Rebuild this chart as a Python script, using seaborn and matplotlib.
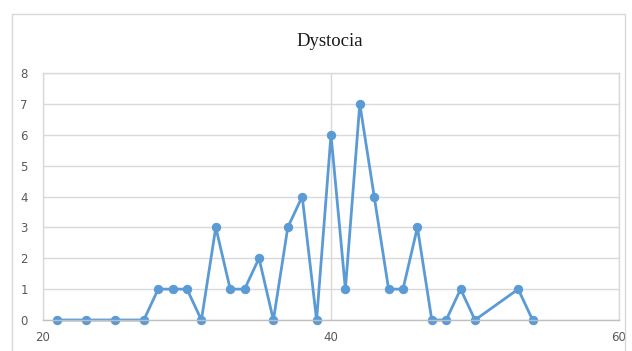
import matplotlib
matplotlib.use("Agg")
import matplotlib.pyplot as plt
import seaborn as sns
import pandas as pd
from matplotlib.patches import Rectangle

# data
weeks = [21, 23, 25, 27, 28, 29, 30, 31, 32, 33, 34, 35, 36, 37, 38, 39,
         40, 41, 42, 43, 44, 45, 46, 47, 48, 49, 50, 53, 54]
cases = [0, 0, 0, 0, 1, 1, 1, 0, 3, 1, 1, 2, 0, 3, 4, 0,
         6, 1, 7, 4, 1, 1, 3, 0, 0, 1, 0, 1, 0]
x_ticks = [20, 40, 60]
y_ticks = list(range(0, 9))

df = pd.DataFrame({"week": weeks, "cases": cases})

sns.set_style("white")
fig = plt.figure(figsize=(6.32, 3.51), dpi=100)

# outer chart frame
fig.patches.append(Rectangle((12 / 632, -0.01), 613 / 632, 1 - 14 / 351 + 0.01,
                             transform=fig.transFigure, fill=False,
                             edgecolor="#d9d9d9", linewidth=1.0))

ax = fig.add_axes([43 / 632, 1 - 320 / 351, (619 - 43) / 632, (320 - 73) / 351])
blue = "#5B9BD5"
sns.lineplot(data=df, x="week", y="cases", ax=ax, color=blue, linewidth=2,
             marker="o", markersize=6, markeredgecolor=blue)
for ln in ax.lines:
    ln.set_clip_on(False)

ax.set_xlim(20, 60)
ax.set_ylim(0, 8)
ax.set_xticks(x_ticks)
ax.set_yticks(y_ticks)
ax.grid(True, color="#d9d9d9", linewidth=1)
ax.set_axisbelow(True)
for s in ax.spines.values():
    s.set_color("#d9d9d9")
    s.set_linewidth(1)
ax.spines["bottom"].set_color("#bfbfbf")
ax.tick_params(axis="y", length=0, labelsize=8.5, labelcolor="#595959", pad=11)
ax.tick_params(axis="x", length=0, labelsize=8.5, labelcolor="#595959", pad=8)
ax.set_xlabel("")
ax.set_ylabel("")

fig.text(0.522, 1 - 42 / 351, "Dystocia", ha="center", va="center",
         fontsize=13.5, family="Liberation Serif", color="#1a1a1a")

fig.savefig("out.png", dpi=100)
